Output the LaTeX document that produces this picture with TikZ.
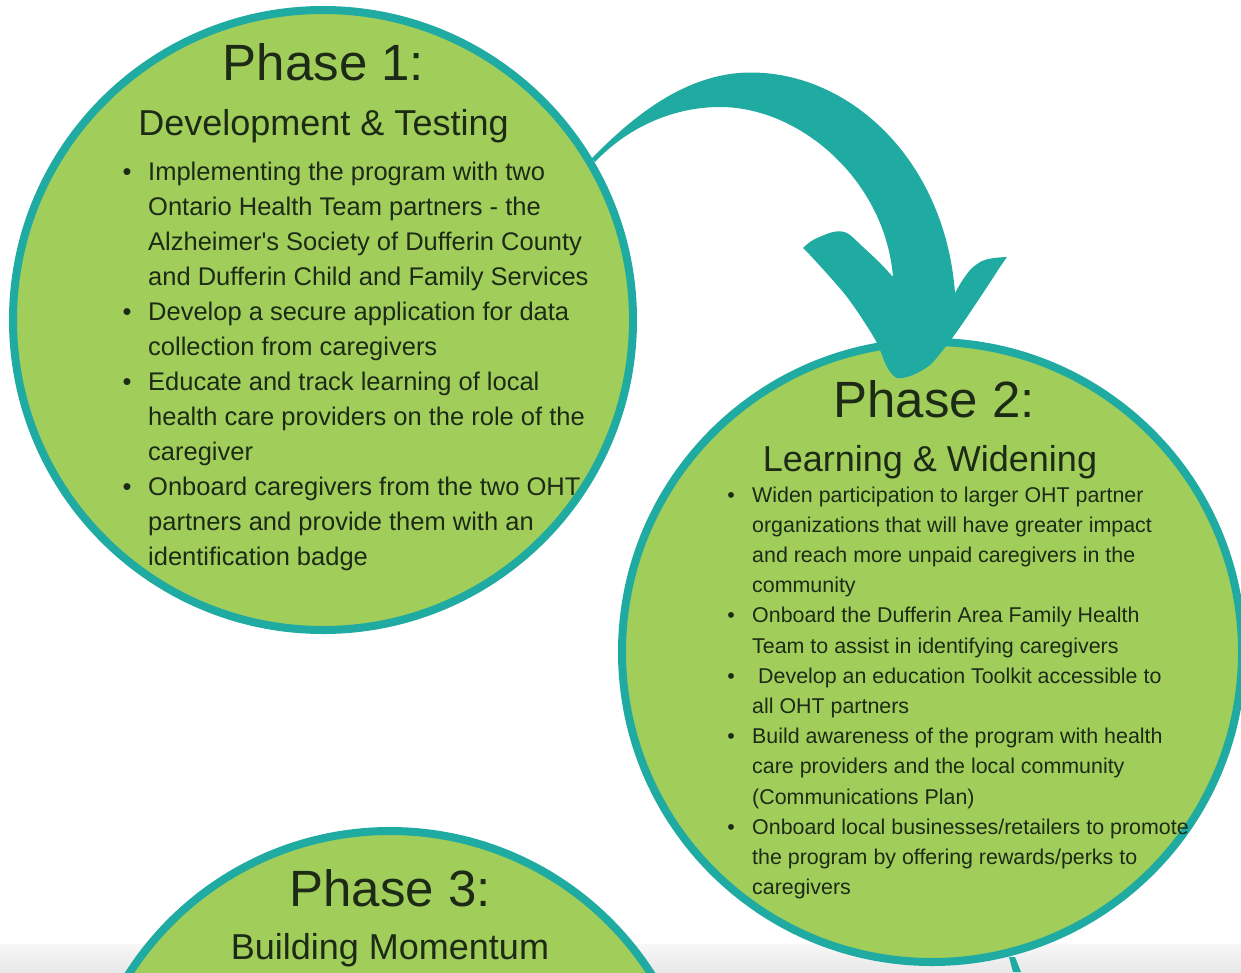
\documentclass[tikz,border=0pt]{standalone}
\usepackage{fontspec}
\setmainfont{Liberation Sans}[Ligatures=TeXOff]
\definecolor{teal1}{HTML}{1FAAA2}
\definecolor{leaf}{HTML}{A1CE5B}
\definecolor{ink}{HTML}{1C2A16}
\begin{document}
\begin{tikzpicture}[x=1pt,y=-1pt,
  phase/.style={circle,draw=teal1,fill=leaf,line width=8pt,minimum size=620pt,inner sep=0pt},
  title/.style={font=\fontsize{51}{51}\selectfont,text=ink,inner sep=0pt,anchor=base},
  subtitle/.style={font=\fontsize{36}{36}\selectfont,text=ink,inner sep=0pt,anchor=base},
  bodyA/.style={font=\fontsize{25.5}{30}\selectfont,text=ink,inner sep=0pt,anchor=base west},
  bodyB/.style={font=\fontsize{21.4}{25}\selectfont,text=ink,inner sep=0pt,anchor=base west},
  bulA/.style={font=\fontsize{25.5}{30}\selectfont,text=ink,inner sep=0pt,anchor=base},
  bulB/.style={font=\fontsize{21.4}{25}\selectfont,text=ink,inner sep=0pt,anchor=base},
  sm/.style={smooth,tension=0.5},
]
\useasboundingbox (0,0) rectangle (1241,972);
\clip (0,0) rectangle (1241,972);
% bottom page shadow band
\shade[top color=black!3,bottom color=black!9] (0,944) rectangle (1241,972);
% tail of the next arrow
\fill[teal1] (1009,957) -- (1015,957) -- (1021,972) -- (1013,972) -- cycle;
% phase circles
\node[phase] (c1) at (323,320) {};
\node[phase] (c2) at (932,652) {};
\node[phase] (c3) at (390,1141) {};
% curved arrow from phase 1 to phase 2
\fill[teal1] (591.7,158.3) .. controls (625,125) and (680,73) .. (750,72.5)
  .. controls (850,72) and (945,160) .. (955,293)
  -- plot[sm] coordinates {(955,293) (962,281) (971,269) (982,261) (994,258) (1007,257)}
  -- plot[sm] coordinates {(1007,257) (1000,267) (987,287) (967,317) (953,337) (943,350) (930,365) (913,375) (897,378) (887,367) (877,343) (863,320) (847,297) (830,277) (810,255) (803,248)}
  -- plot[sm] coordinates {(803,248) (813,240) (833,232) (847,233) (863,247) (880,263) (893,277)}
  .. controls (885,180) and (800,107) .. (720,107)
  .. controls (670,107) and (625,130) .. (595,162)
  -- cycle;
% phase 1 text
\node[title] (p1) at (323.5,80) {Phase 1:};
\node[subtitle] (s1) at (323.5,135) {Development \& Testing};
\foreach \t [count=\i] in {
  {Implementing the program with two},
  {Ontario Health Team partners - the},
  {Alzheimer's Society of Dufferin County},
  {and Dufferin Child and Family Services},
  {Develop a secure application for data},
  {collection from caregivers},
  {Educate and track learning of local},
  {health care providers on the role of the},
  {caregiver},
  {Onboard caregivers from the two OHT},
  {partners and provide them with an},
  {identification badge}}
  \node[bodyA] (a\i) at (148,{180+35*(\i-1)}) {\t};
\foreach \i in {1,5,7,10}
  \node[bulA] (ba\i) at (127,{180+35*(\i-1)}) {•};
% phase 2 text
\node[title] (p2) at (934,417) {Phase 2:};
\node[subtitle] (s2) at (930,471) {Learning \& Widening};
\foreach \t [count=\i] in {
  {Widen participation to larger OHT partner},
  {organizations that will have greater impact},
  {and reach more unpaid caregivers in the},
  {community},
  {Onboard the Dufferin Area Family Health},
  {Team to assist in identifying caregivers},
  {},
  {all OHT partners},
  {Build awareness of the program with health},
  {care providers and the local community},
  {(Communications Plan)},
  {Onboard local businesses/retailers to promote},
  {the program by offering rewards/perks to},
  {caregivers}}
  \node[bodyB] (b\i) at (752,{502+30.2*(\i-1)}) {\t};
\node[bodyB] (b7x) at (758,{502+30.2*6}) {Develop an education Toolkit accessible to};
\foreach \i in {1,5,7,9,12}
  \node[bulB] (bb\i) at (731,{502+30.2*(\i-1)}) {•};
% phase 3 text
\node[title] (p3) at (390,906) {Phase 3:};
\node[subtitle] (s3) at (390,959) {Building Momentum};
\end{tikzpicture}
\end{document}
